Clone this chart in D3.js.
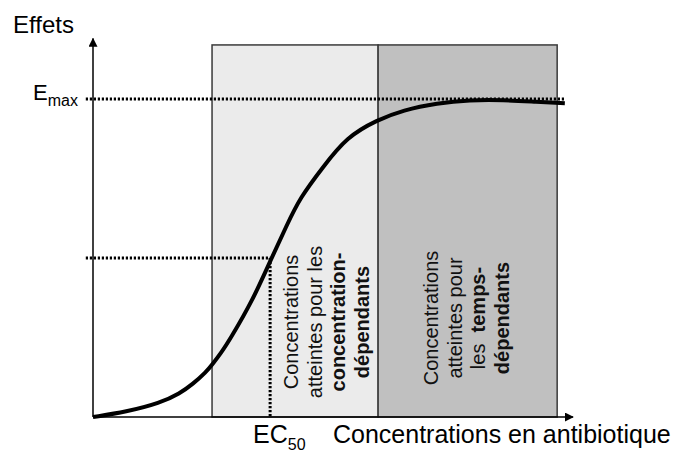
<!DOCTYPE html>
<html>
<head>
<meta charset="utf-8">
<script src="https://cdn.jsdelivr.net/npm/d3@7"></script>
<style>
  body { margin: 0; background: #fff; }
  svg { display: block; font-family: "Liberation Sans", Arial, sans-serif; }
</style>
</head>
<body>
<script>
// Courbe effet / concentration (unités arbitraires).
const concentrations = [0, 0.69, 1.40, 1.81, 2.08, 2.35, 2.50, 2.67, 2.85, 3.33, 3.69, 4.04, 4.31, 4.79, 5.29, 5.92, 6.46, 7.17, 7.85, 8.54, 9.25, 9.83];
const effets = [0, 0.016, 0.044, 0.074, 0.104, 0.14, 0.168, 0.202, 0.243, 0.368, 0.49, 0.604, 0.689, 0.786, 0.881, 0.934, 0.965, 0.987, 0.997, 0.997, 0.991, 0.987];

// Zones de concentration atteintes.
const zoneNames = ['concentration', 'temps'];
const zoneStart = [2.48, 5.94];
const zoneEnd = [5.94, 9.67];
const zoneTop = 1.17;

const ec50 = 3.69;
const emax = 1;
const emaxLineEnd = 9.83;

// Textes des zones (lignes, morceaux en gras marqués par b).
const zoneLabels = [
  [[{t: 'Concentrations'}], [{t: 'atteintes pour les'}], [{t: 'concentration-', b: true}], [{t: 'dépendants', b: true}]],
  [[{t: 'Concentrations'}], [{t: 'atteintes pour'}], [{t: 'les  '}, {t: 'temps-', b: true}], [{t: 'dépendants', b: true}]]
];

const width = 687, height = 452;
const margin = {left: 93, right: 114, bottom: 35};
const colors = {light: '#ebebeb', dark: '#c0c0c0', border: '#3a3a3a', ink: '#000'};

const x = d3.scaleLinear().domain([0, 10]).range([margin.left, width - margin.right]);
const y = d3.scaleLinear().domain([0, 1]).range([height - margin.bottom, 99]);

const svg = d3.select('body').append('svg')
  .attr('width', width)
  .attr('height', height);

const defs = svg.append('defs');
defs.append('marker')
  .attr('id', 'arrow')
  .attr('viewBox', '0 0 10 10')
  .attr('refX', 9).attr('refY', 5)
  .attr('markerWidth', 9).attr('markerHeight', 9)
  .attr('markerUnits', 'userSpaceOnUse')
  .attr('orient', 'auto')
  .append('path')
  .attr('d', 'M0,0 L10,5 L0,10 Z')
  .attr('fill', colors.ink);

// Zones grisées.
svg.selectAll('rect.zone')
  .data(zoneNames)
  .enter()
  .append('rect')
  .attr('class', 'zone')
  .attr('x', (d, i) => x(zoneStart[i]))
  .attr('y', y(zoneTop))
  .attr('width', (d, i) => x(zoneEnd[i]) - x(zoneStart[i]))
  .attr('height', y(0) - y(zoneTop))
  .attr('fill', (d, i) => i === 0 ? colors.light : colors.dark)
  .attr('stroke', colors.border)
  .attr('stroke-width', 1.5);

// Textes verticaux dans les zones (première ligne de base, centre vertical).
const lineStep = 23.5;
const firstBaseline = [298, 438];
const labelMid = [322, 318];
zoneLabels.forEach((lines, i) => {
  lines.forEach((segs, j) => {
    const t = svg.append('text')
      .attr('transform', 'translate(' + (firstBaseline[i] + j * lineStep) + ',' + labelMid[i] + ') rotate(-90)')
      .attr('text-anchor', 'middle')
      .attr('font-size', 20)
      .attr('fill', '#111')
      .style('white-space', 'pre');
    segs.forEach((s) => {
      t.append('tspan')
        .attr('font-weight', s.b ? 'bold' : 'normal')
        .text(s.t);
    });
  });
});

// Pointillés Emax et EC50.
const dotted = {stroke: colors.ink, width: 3, dash: '2.2,1.8'};
svg.append('line')
  .attr('x1', x(-0.15)).attr('x2', x(emaxLineEnd))
  .attr('y1', y(emax)).attr('y2', y(emax))
  .attr('stroke', dotted.stroke).attr('stroke-width', dotted.width)
  .attr('stroke-dasharray', dotted.dash);

svg.append('line')
  .attr('x1', x(-0.15)).attr('x2', x(ec50))
  .attr('y1', y(emax / 2)).attr('y2', y(emax / 2))
  .attr('stroke', dotted.stroke).attr('stroke-width', dotted.width)
  .attr('stroke-dasharray', dotted.dash);

svg.append('line')
  .attr('x1', x(ec50)).attr('x2', x(ec50))
  .attr('y1', y(emax / 2)).attr('y2', y(0))
  .attr('stroke', dotted.stroke).attr('stroke-width', dotted.width)
  .attr('stroke-dasharray', dotted.dash);

// Axes avec flèches.
svg.append('line')
  .attr('x1', x(0)).attr('y1', y(0))
  .attr('x2', x(0)).attr('y2', y(1.19))
  .attr('stroke', colors.ink).attr('stroke-width', 1.5)
  .attr('marker-end', 'url(#arrow)');

svg.append('line')
  .attr('x1', x(0)).attr('y1', y(0))
  .attr('x2', x(10)).attr('y2', y(0))
  .attr('stroke', colors.ink).attr('stroke-width', 1.5)
  .attr('marker-end', 'url(#arrow)');

// Courbe.
const line = d3.line()
  .x((d, i) => x(concentrations[i]))
  .y((d) => y(d))
  .curve(d3.curveBasis);

svg.append('path')
  .datum(effets)
  .attr('d', line)
  .attr('fill', 'none')
  .attr('stroke', colors.ink)
  .attr('stroke-width', 4)
  .attr('stroke-linecap', 'butt');

// Libellés.
svg.append('text')
  .attr('x', 13).attr('y', 33)
  .attr('font-size', 24)
  .text('Effets');

const emaxLabel = svg.append('text')
  .attr('x', 33).attr('y', y(emax) + 1)
  .attr('font-size', 22);
emaxLabel.append('tspan').text('E');
emaxLabel.append('tspan').attr('font-size', 16).attr('dy', 6).text('max');

const ecLabel = svg.append('text')
  .attr('x', x(ec50) - 17).attr('y', 443)
  .attr('font-size', 25);
ecLabel.append('tspan').text('EC');
ecLabel.append('tspan').attr('font-size', 16).attr('dy', 7).text('50');

svg.append('text')
  .attr('x', 333).attr('y', 443)
  .attr('font-size', 25)
  .text('Concentrations en antibiotique');
</script>
</body>
</html>
